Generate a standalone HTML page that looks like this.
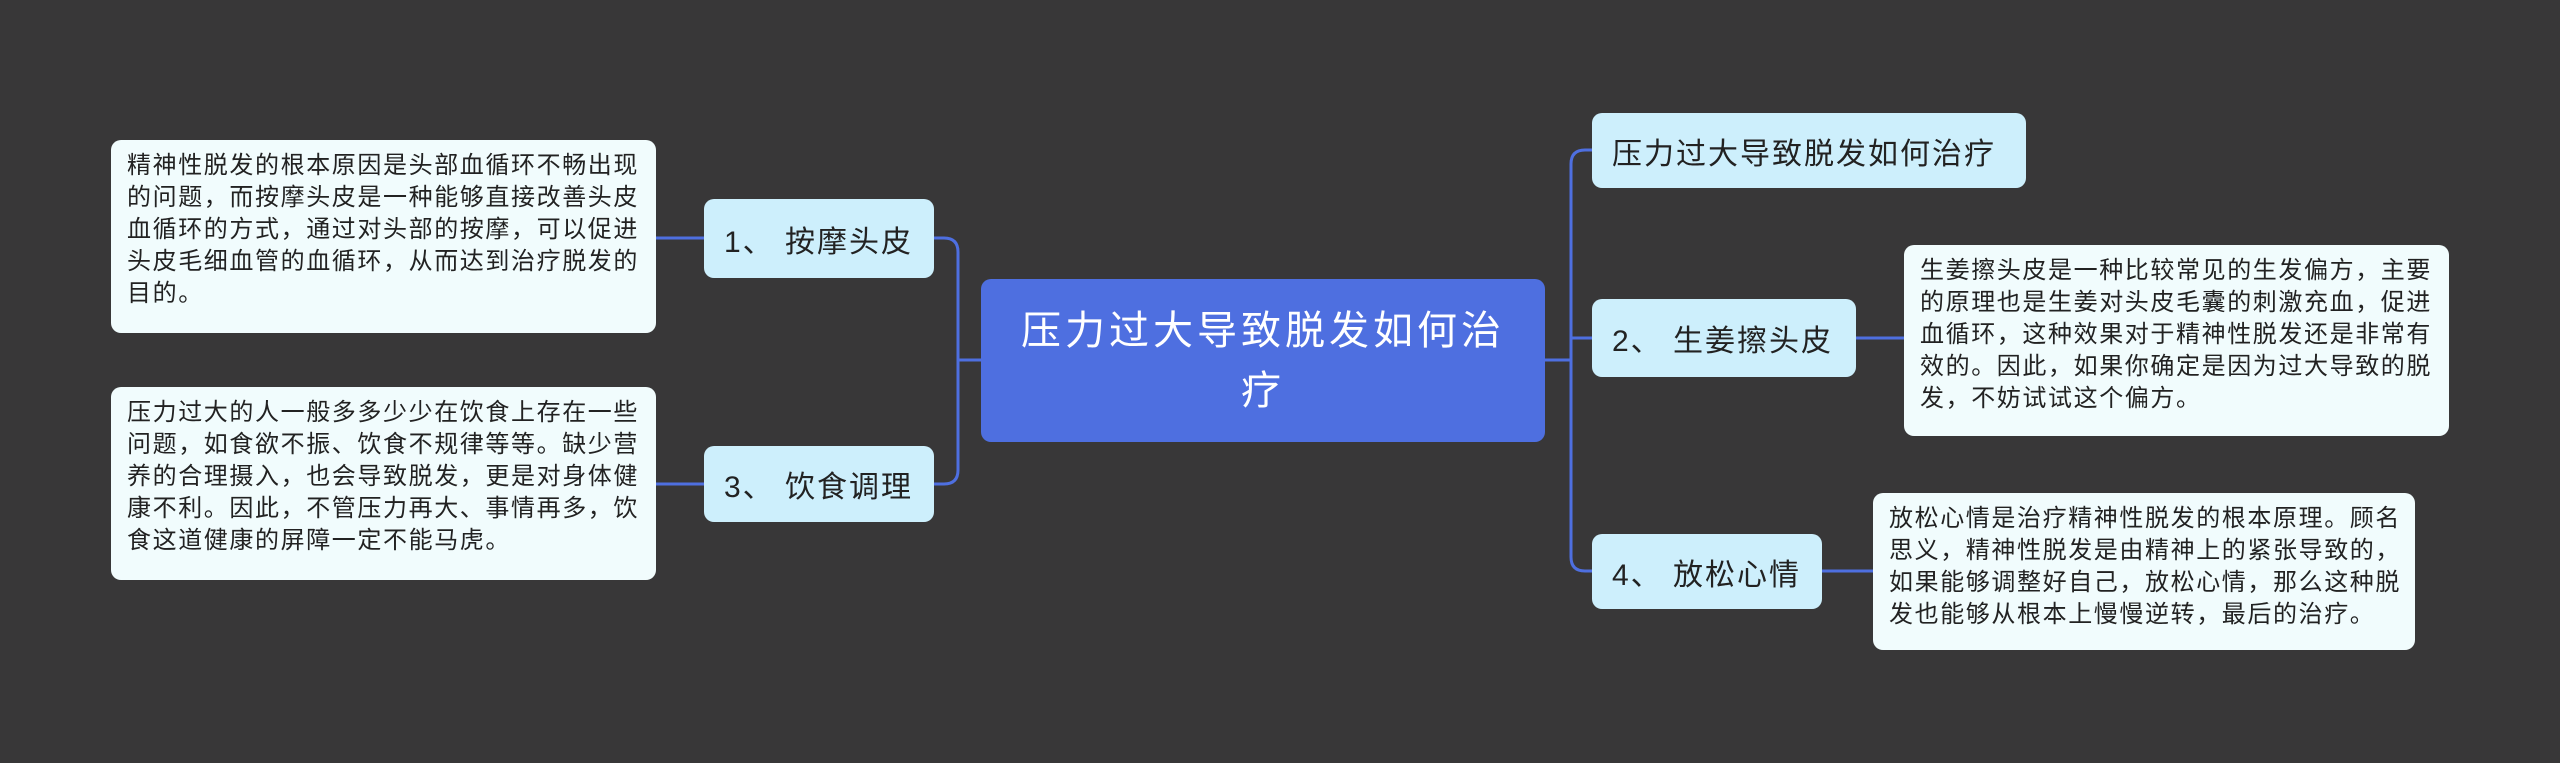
<!DOCTYPE html>
<html><head><meta charset="utf-8"><style>
body{margin:0;width:2560px;height:763px;background:#383738;overflow:hidden;position:relative;font-family:"Liberation Sans","Noto Sans CJK SC",sans-serif;}
.b{position:absolute;box-sizing:border-box;border-radius:10px;}
.n{background:#cdeffc;color:#222;font-size:30px;letter-spacing:2px;display:flex;align-items:center;padding-left:20px;white-space:nowrap;}
.t{background:#f1fcfd;color:#222;font-size:24px;letter-spacing:1.6px;line-height:32px;padding:10px 6px 10px 16px;white-space:nowrap;}
.c{background:#4e6fe0;color:#fff;font-size:40px;letter-spacing:4px;line-height:60px;text-align:center;display:flex;align-items:center;justify-content:center;padding:0 28px;}
</style></head><body>
<svg width="2560" height="763" style="position:absolute;left:0;top:0">
<g fill="none" stroke="#4e6fe0" stroke-width="3">
<path d="M981 360 H958"/>
<path d="M934 238 H944 Q958 238 958 252 V470 Q958 484 944 484 H934"/>
<path d="M704 238 H656"/><path d="M704 484 H656"/>
<path d="M1545 360 H1571"/>
<path d="M1592 150 H1585 Q1571 150 1571 164 V557 Q1571 571 1585 571 H1592"/>
<path d="M1571 338 H1592"/>
<path d="M1856 338 H1904"/><path d="M1822 571 H1873"/>
</g></svg>
<div class="b c" style="left:981px;top:279px;width:564px;height:163px;">压力过大导致脱发如何治疗</div>
<div class="b n" style="left:704px;top:199px;width:230px;height:79px;">1、 按摩头皮</div>
<div class="b n" style="left:704px;top:446px;width:230px;height:76px;">3、 饮食调理</div>
<div class="b t" style="left:111px;top:140px;width:545px;height:193px;">精神性脱发的根本原因是头部血循环不畅出现<br>的问题，而按摩头皮是一种能够直接改善头皮<br>血循环的方式，通过对头部的按摩，可以促进<br>头皮毛细血管的血循环，从而达到治疗脱发的<br>目的。</div>
<div class="b t" style="left:111px;top:387px;width:545px;height:193px;">压力过大的人一般多多少少在饮食上存在一些<br>问题，如食欲不振、饮食不规律等等。缺少营<br>养的合理摄入，也会导致脱发，更是对身体健<br>康不利。因此，不管压力再大、事情再多，饮<br>食这道健康的屏障一定不能马虎。</div>
<div class="b n" style="left:1592px;top:113px;width:434px;height:75px;">压力过大导致脱发如何治疗</div>
<div class="b n" style="left:1592px;top:299px;width:264px;height:78px;">2、 生姜擦头皮</div>
<div class="b n" style="left:1592px;top:534px;width:230px;height:75px;">4、 放松心情</div>
<div class="b t" style="left:1904px;top:245px;width:545px;height:191px;">生姜擦头皮是一种比较常见的生发偏方，主要<br>的原理也是生姜对头皮毛囊的刺激充血，促进<br>血循环，这种效果对于精神性脱发还是非常有<br>效的。因此，如果你确定是因为过大导致的脱<br>发，不妨试试这个偏方。</div>
<div class="b t" style="left:1873px;top:493px;width:542px;height:157px;">放松心情是治疗精神性脱发的根本原理。顾名<br>思义，精神性脱发是由精神上的紧张导致的，<br>如果能够调整好自己，放松心情，那么这种脱<br>发也能够从根本上慢慢逆转，最后的治疗。</div>
</body></html>
